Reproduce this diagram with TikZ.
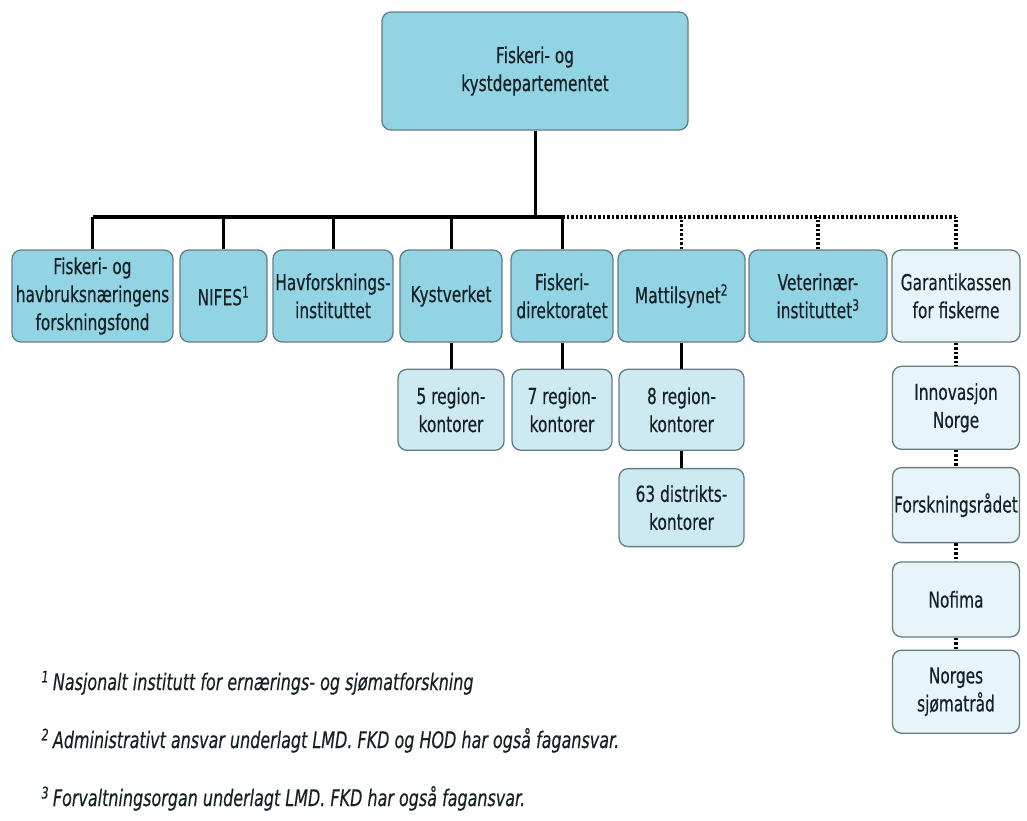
\documentclass[tikz,border=0pt]{standalone}
\usepackage{fontspec}
\setmainfont{DejaVu Sans}[FakeStretch=0.7,FakeBold=0.3]
\usetikzlibrary{positioning}

\definecolor{boxblue}{RGB}{146,212,228}
\definecolor{boxlight}{RGB}{205,234,242}
\definecolor{boxpale}{RGB}{232,245,248}
\definecolor{boxline}{RGB}{100,125,130}
\definecolor{boxtext}{RGB}{20,32,36}

\begin{document}
\begin{tikzpicture}[x=1pt,y=-1pt,
    main node/.style={draw=boxline,line width=1.3pt,rounded corners=9pt,fill=boxblue,
      text=boxtext,align=center,inner sep=1pt,minimum height=92pt,
      font=\fontsize{22}{28}\selectfont},
    sub node/.style={main node,fill=boxlight,minimum height=81pt},
    side node/.style={main node,fill=boxpale,minimum width=127pt},
    note/.style={anchor=base west,text=boxtext,font=\fontsize{22.8}{27}\selectfont\itshape},
    link/.style={line width=3pt},
    dots/.style={line width=3.5pt,dash pattern=on 2.5pt off 2pt}]

    \useasboundingbox (0,0) rectangle (1027,820);

    % Define vertices
    \node[main node,minimum width=306pt,minimum height=118pt] (dep) at (535,71)
        {Fiskeri- og\\kystdepartementet};

    \node[main node,minimum width=161pt] (ffond) at (92.5,296)
        {Fiskeri- og\\havbruksnæringens\\forskningsfond};
    \node[main node,minimum width=87pt] (nifes) at (223.5,296) {NIFES\textsuperscript{1}};
    \node[main node,minimum width=120pt] (havf) at (333,296) {Havforsknings-\\instituttet};
    \node[main node,minimum width=102pt] (kyst) at (451,296) {Kystverket};
    \node[main node,minimum width=102pt] (fdir) at (562,296) {Fiskeri-\\direktoratet};
    \node[main node,minimum width=127pt] (matt) at (681.5,296) {Mattilsynet\textsuperscript{2}};
    \node[main node,minimum width=138pt] (vet) at (818,296) {Veterinær-\\instituttet\textsuperscript{3}};
    \node[side node,minimum width=128pt] (gar) at (956,296) {Garantikassen\\for fiskerne};

    \node[sub node,minimum width=106pt] (kyst5) [below=26pt of kyst] {5 region-\\kontorer};
    \node[sub node,minimum width=100pt] (fdir7) [below=26pt of fdir] {7 region-\\kontorer};
    \node[sub node,minimum width=125pt] (matt8) [below=26pt of matt] {8 region-\\kontorer};
    \node[sub node,minimum width=125pt,minimum height=78pt] (matt63) [below=17pt of matt8]
        {63 distrikts-\\kontorer};

    \node[side node,minimum height=83pt] (inno) [below=23pt of gar] {Innovasjon\\Norge};
    \node[side node,minimum height=75pt] (forsk) [below=17pt of inno] {Forskningsrådet};
    \node[side node,minimum height=75pt] (nofima) [below=18pt of forsk] {Nofima};
    \node[side node,minimum height=83pt] (sjomat) [below=12pt of nofima] {Norges\\sjømatråd};

    \coordinate (busL) at (92.5,217);
    \coordinate (busM) at (562,217);
    \coordinate (busR) at (956,217);

    % Draw edges
    \draw[line width=4pt] (busL) -- (busM);
    \draw[dots] (busM) -- (busR);
    \path[link]
        (dep.south) edge (dep.south |- busL)
        (ffond.north) edge (ffond.north |- busL)
        (nifes.north) edge (nifes.north |- busL)
        (havf.north) edge (havf.north |- busL)
        (kyst.north) edge (kyst.north |- busL)
        (fdir.north) edge (fdir.north |- busL)
        (kyst) edge (kyst5)
        (fdir) edge (fdir7)
        (matt) edge (matt8)
        (matt8) edge (matt63);
    \path[dots]
        (matt.north) edge (matt.north |- busL)
        (vet.north) edge (vet.north |- busL)
        (gar.north) edge (gar.north |- busL)
        (gar) edge (inno)
        (inno) edge (forsk)
        (forsk) edge (nofima)
        (nofima) edge (sjomat);

    % Footnotes
    \node[note] (fn1) at (38,690) {\textsuperscript{1}\,Nasjonalt institutt for ernærings- og sjømatforskning};
    \node[note] (fn2) at (38,748) {\textsuperscript{2}\,Administrativt ansvar underlagt LMD. FKD og HOD har også fagansvar.};
    \node[note] (fn3) at (38,806) {\textsuperscript{3}\,Forvaltningsorgan underlagt LMD. FKD har også fagansvar.};

\end{tikzpicture}
\end{document}
